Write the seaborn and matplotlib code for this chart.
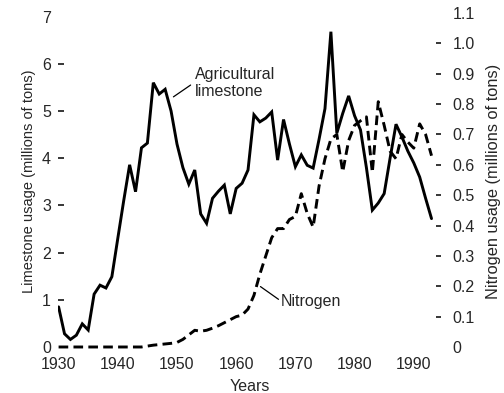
import numpy as np
import pandas as pd
import matplotlib
matplotlib.use("Agg")
import matplotlib.pyplot as plt
import seaborn as sns

# Annual usage, 1930-1993
years = list(range(1930, 1994))

limestone = [
    0.85, 0.28, 0.16, 0.25, 0.49, 0.36, 1.12, 1.31, 1.25, 1.49,   # 1930s
    2.30, 3.10, 3.86, 3.29, 4.22, 4.32, 5.60, 5.36, 5.46, 5.00,   # 1940s
    4.30, 3.80, 3.45, 3.75, 2.82, 2.62, 3.15, 3.30, 3.43, 2.82,   # 1950s
    3.36, 3.47, 3.75, 4.92, 4.77, 4.85, 4.98, 3.96, 4.82, 4.30,   # 1960s
    3.82, 4.07, 3.85, 3.79, 4.40, 5.05, 6.68, 4.53, 4.95, 5.32,   # 1970s
    4.90, 4.60, 3.80, 2.90, 3.05, 3.25, 4.00, 4.72, 4.45, 4.15,   # 1980s
    3.90, 3.60, 3.15, 2.72,                                       # 1990-93
]

nitrogen = [
    0.0, 0.0, 0.0, 0.0, 0.0, 0.0, 0.0, 0.0, 0.0, 0.0,
    0.0, 0.0, 0.0, 0.0, 0.0, 0.003, 0.006, 0.008, 0.010, 0.012,
    0.015, 0.025, 0.040, 0.055, 0.052, 0.055, 0.062, 0.070, 0.080, 0.090,
    0.100, 0.105, 0.125, 0.170, 0.240, 0.300, 0.360, 0.390, 0.390, 0.420,
    0.430, 0.505, 0.440, 0.395, 0.530, 0.620, 0.685, 0.700, 0.577, 0.680,
    0.730, 0.745, 0.758, 0.575, 0.808, 0.730, 0.645, 0.620, 0.700, 0.675,
    0.655, 0.735, 0.700, 0.630,
]

x_ticks = [1930, 1940, 1950, 1960, 1970, 1980, 1990]
left_ticks = [0, 1, 2, 3, 4, 5, 6, 7]
right_ticks = [0, 0.1, 0.2, 0.3, 0.4, 0.5, 0.6, 0.7, 0.8, 0.9, 1.0, 1.1]
right_labels = ["0", "0.1", "0.2", "0.3", "0.4", "0.5", "0.6", "0.7",
                "0.8", "0.9", "1.0", "1.1"]

df = pd.DataFrame({"year": years, "limestone": limestone, "nitrogen": nitrogen})

sns.set_style("white")
plt.rcParams["font.family"] = ["Liberation Sans", "DejaVu Sans"]
FS = 11.5

fig = plt.figure(figsize=(5.04, 3.93), dpi=100)
ax = fig.add_axes([58 / 504, (393 - 352) / 393, 383 / 504, 342 / 393])
ax2 = ax.twinx()

sns.lineplot(data=df, x="year", y="limestone", ax=ax, color="black",
             linewidth=2.1, solid_joinstyle="miter")
sns.lineplot(data=df, x="year", y="nitrogen", ax=ax2, color="black",
             linewidth=2.1, linestyle=(0, (3.3, 1.8)))

ax.set_xlim(1929.9, 1994.6)
ax.set_ylim(-0.106, 7.14)
ax2.set_ylim(-0.0165, 1.110)

for a in (ax, ax2):
    for s in a.spines.values():
        s.set_visible(False)

ax.set_xticks(x_ticks)
ax.set_xticklabels([str(t) for t in x_ticks], fontsize=FS)
ax.tick_params(axis="x", length=0, pad=3.5)

ax.set_yticks(left_ticks)
ax.set_yticklabels([str(t) for t in left_ticks], fontsize=FS)
ax.tick_params(axis="y", direction="in", length=4.6, width=1.1, pad=5,
               left=True, color="black")
for t in (ax.yaxis.get_major_ticks()[0], ax.yaxis.get_major_ticks()[-1]):
    t.tick1line.set_visible(False)

ax2.set_yticks(right_ticks)
ax2.set_yticklabels(right_labels, fontsize=FS)
ax2.tick_params(axis="y", direction="in", length=3.6, width=1.1, pad=8.5,
                right=True, color="black")
for t in (ax2.yaxis.get_major_ticks()[0], ax2.yaxis.get_major_ticks()[-1]):
    t.tick2line.set_visible(False)

ax.set_xlabel("Years", fontsize=FS, labelpad=5)
ax.set_ylabel("Limestone usage (millions of tons)", fontsize=10.5, labelpad=4)
ax2.set_ylabel("Nitrogen usage (millions of tons)", fontsize=11.8, labelpad=8)

# Series labels with leader lines
ax.annotate("", xy=(1949.4, 5.30), xytext=(1952.3, 5.55),
            arrowprops=dict(arrowstyle="-", color="black", lw=0.9,
                            shrinkA=0, shrinkB=0))
ax.text(1953.0, 5.60, "Agricultural\nlimestone", fontsize=FS,
        ha="left", va="center", linespacing=1.15)

ax2.annotate("", xy=(1964.1, 0.199), xytext=(1967.15, 0.157),
             arrowprops=dict(arrowstyle="-", color="black", lw=0.9,
                             shrinkA=0, shrinkB=0))
ax2.text(1967.6, 0.150, "Nitrogen", fontsize=FS, ha="left", va="center")

fig.savefig("out.png", dpi=100)
